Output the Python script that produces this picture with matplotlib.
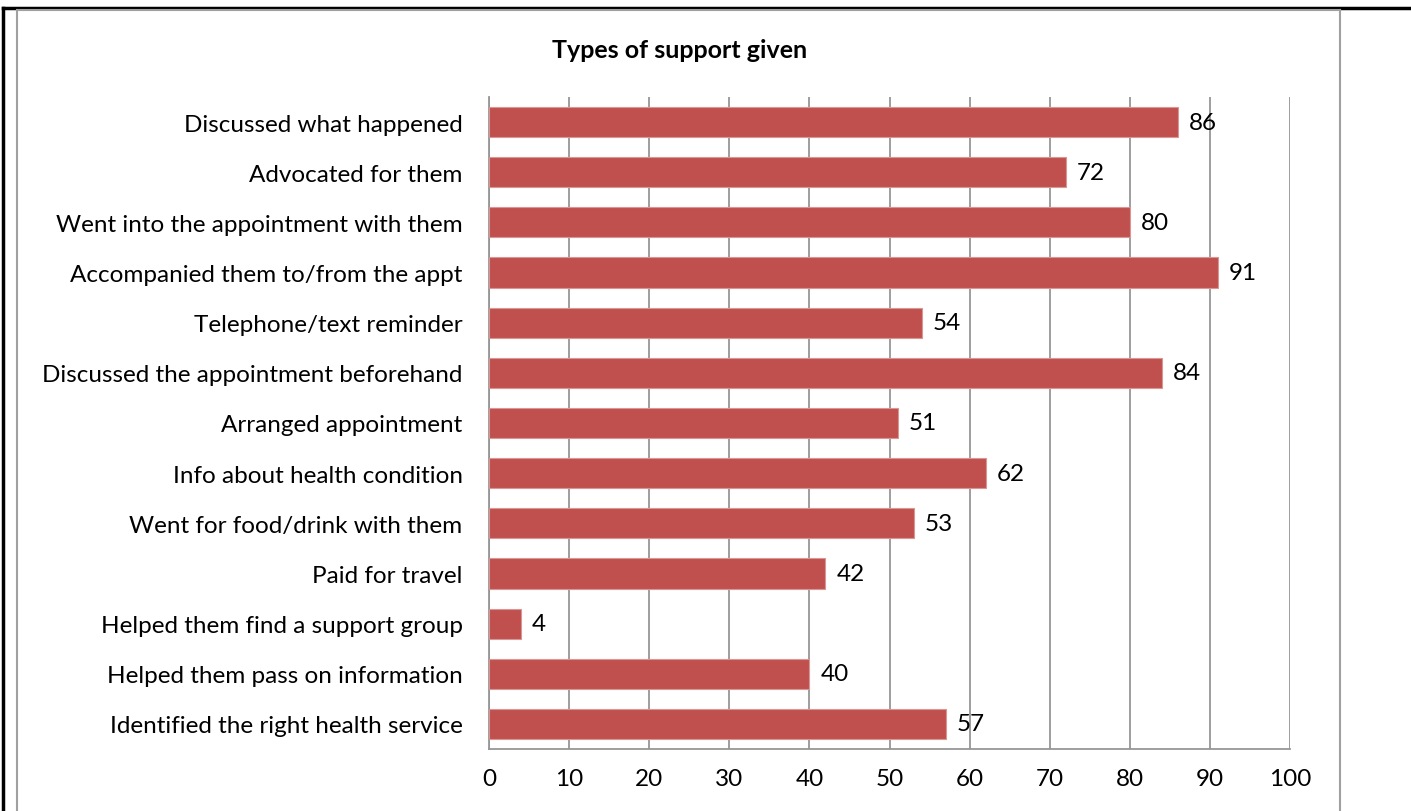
import matplotlib.pyplot as plt
from matplotlib.lines import Line2D

categories = [
    "Discussed what happened",
    "Advocated for them",
    "Went into the appointment with them",
    "Accompanied them to/from the appt",
    "Telephone/text reminder",
    "Discussed the appointment beforehand",
    "Arranged appointment",
    "Info about health condition",
    "Went for food/drink with them",
    "Paid for travel",
    "Helped them find a support group",
    "Helped them pass on information",
    "Identified the right health service",
]
values = [86, 72, 80, 91, 54, 84, 51, 62, 53, 42, 4, 40, 57]
xticks = [0, 10, 20, 30, 40, 50, 60, 70, 80, 90, 100]

plt.rcParams["font.family"] = ["Lato", "DejaVu Sans"]
FS = 17.5

W, H = 1411, 812
fig = plt.figure(figsize=(W / 100, H / 100), dpi=100)
ax = fig.add_axes([489 / W, 1 - 750 / H, (1290 - 489) / W, (750 - 98) / H])

ypos = list(range(len(categories)))
ax.barh(ypos, values, height=0.6, color="#C0504D", edgecolor="#D99694",
        linewidth=0.8, zorder=3)
for y, v in zip(ypos, values):
    ax.annotate(str(v), (v, y), xytext=(8, 0), textcoords="offset points",
                ha="left", va="center", fontsize=FS, color="black")

ax.set_ylim(len(categories) - 0.5, -0.5)
ax.set_xlim(0, 100)
ax.set_xticks(xticks)
ax.set_yticks(ypos)
ax.set_yticklabels(categories)
ax.tick_params(axis="y", length=0, pad=19, labelsize=FS)
ax.tick_params(axis="x", length=0, pad=14, labelsize=FS)
ax.grid(axis="x", color="#969696", linewidth=1.3, zorder=0)
for side in ["top", "right"]:
    ax.spines[side].set_visible(False)
for side in ["left", "bottom"]:
    ax.spines[side].set_color("#969696")
    ax.spines[side].set_linewidth(1.3)

fig.text(680 / W, 1 - 50 / H, "Types of support given", ha="center",
         va="center", fontsize=18, fontweight="bold")

# outer frames
fig.add_artist(Line2D([3 / W, 3 / W], [0, 1 - 9 / H], color="black", lw=2.5))
fig.add_artist(Line2D([3 / W, 1], [1 - 9 / H, 1 - 9 / H], color="black", lw=2.5))
gray = "#A0A0A0"
fig.add_artist(Line2D([17 / W, 17 / W], [0, 1 - 11 / H], color=gray, lw=1.5))
fig.add_artist(Line2D([17 / W, 1340 / W], [1 - 11 / H, 1 - 11 / H], color=gray, lw=1.5))
fig.add_artist(Line2D([1340 / W, 1340 / W], [0, 1 - 11 / H], color=gray, lw=1.5))

fig.savefig("out.png", dpi=100)
